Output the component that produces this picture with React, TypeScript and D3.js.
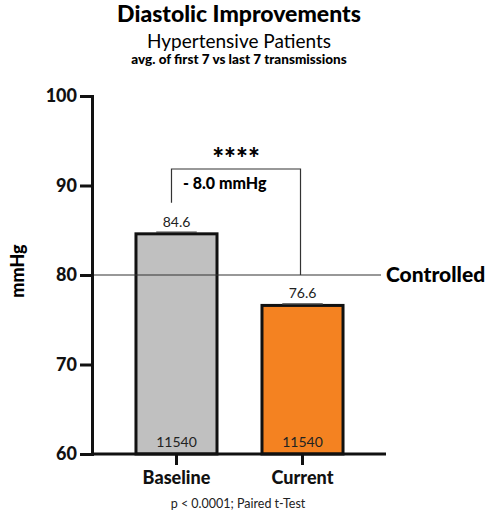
import { useEffect, useRef } from "react";
import * as d3 from "d3";

const categories = ["Baseline", "Current"];
const values = [84.6, 76.6];
const counts = ["11540", "11540"];
const barColors = ["#c0c0c0", "#f48221"];
const yTicks = [60, 70, 80, 90, 100];
const controlledLevel = 80;

const FONT = "Lato, 'Open Sans', sans-serif";

const App = () => {
  const svgRef = useRef<SVGSVGElement>(null);

  useEffect(() => {
    const width = 496;
    const height = 516;
    const svg = d3.select(svgRef.current);
    svg.selectAll("*").remove();
    svg.attr("width", width).attr("height", height);

    const x = d3.scaleBand().domain(categories).range([92, 387]).paddingInner(0.357).paddingOuter(0.349);
    const y = d3.scaleLinear().domain([60, 100]).range([454, 96]);

    // titles
    svg.append("text").attr("x", 239).attr("y", 22).attr("text-anchor", "middle")
      .style("font-family", FONT).style("font-weight", 900).style("font-size", "23px")
      .text("Diastolic Improvements");
    svg.append("text").attr("x", 239).attr("y", 48).attr("text-anchor", "middle")
      .style("font-family", FONT).style("font-size", "19px")
      .text("Hypertensive Patients");
    svg.append("text").attr("x", 239).attr("y", 64).attr("text-anchor", "middle")
      .style("font-family", FONT).style("font-weight", 900).style("font-size", "13.5px")
      .text("avg. of first 7 vs last 7 transmissions");

    // bars
    const bars = svg.append("g");
    categories.forEach((c, i) => {
      bars.append("rect")
        .attr("x", x(c)!)
        .attr("y", y(values[i]))
        .attr("width", x.bandwidth())
        .attr("height", y(60) - y(values[i]))
        .attr("fill", barColors[i])
        .attr("stroke", "#111")
        .attr("stroke-width", 3);
      // tiny error cap
      const cx = x(c)! + x.bandwidth() / 2;
      bars.append("line")
        .attr("x1", cx - x.bandwidth() / 4).attr("x2", cx + x.bandwidth() / 4)
        .attr("y1", y(values[i]) - 1.5).attr("y2", y(values[i]) - 1.5)
        .attr("stroke", "#444").attr("stroke-width", 1.5);
      bars.append("text")
        .attr("x", cx).attr("y", y(values[i]) - 7).attr("text-anchor", "middle")
        .style("font-family", FONT).style("font-size", "14px").style("fill", "#222")
        .text(values[i].toFixed(1));
      bars.append("text")
        .attr("x", cx).attr("y", 447).attr("text-anchor", "middle")
        .style("font-family", FONT).style("font-size", "14px").style("fill", "#222")
        .text(counts[i]);
    });

    // controlled line
    svg.append("line")
      .attr("x1", 92).attr("x2", 381)
      .attr("y1", y(controlledLevel)).attr("y2", y(controlledLevel))
      .attr("stroke", "#333").attr("stroke-width", 1.2);
    svg.append("text").attr("x", 386).attr("y", y(controlledLevel) + 7)
      .style("font-family", FONT).style("font-weight", 900).style("font-size", "21px")
      .text("Controlled");

    // axes
    const yAxis = svg.append("g").attr("transform", "translate(92,0)")
      .call(d3.axisLeft(y).tickValues(yTicks).tickSize(12).tickPadding(3));
    yAxis.select(".domain").attr("stroke", "#111").attr("stroke-width", 3);
    yAxis.selectAll(".tick line").attr("stroke", "#111").attr("stroke-width", 3);
    yAxis.selectAll(".tick text")
      .style("font-family", FONT).style("font-weight", 900).style("font-size", "18px").attr("fill", "#111");

    const xAxis = svg.append("g").attr("transform", `translate(0,${y(60)})`)
      .call(d3.axisBottom(x).tickSize(11).tickPadding(6).tickSizeOuter(0));
    xAxis.select(".domain").attr("stroke", "#111").attr("stroke-width", 3)
      .attr("d", "M92,0H386");
    xAxis.selectAll(".tick line").attr("stroke", "#111").attr("stroke-width", 3);
    xAxis.selectAll(".tick text")
      .style("font-family", FONT).style("font-weight", 900).style("font-size", "18px").attr("fill", "#111");

    // y label
    svg.append("text")
      .attr("transform", `translate(24,${y(80) - 4}) rotate(-90)`)
      .attr("text-anchor", "middle")
      .style("font-family", FONT).style("font-weight", 900).style("font-size", "18px")
      .text("mmHg");

    // significance bracket
    const lx = x("Baseline")! + x.bandwidth() / 2 - 5;
    const rx = x("Current")! + x.bandwidth() / 2 - 2;
    const topY = 169;
    svg.append("path")
      .attr("d", `M${lx},${y(values[0]) - 31}V${topY}H${rx}V${y(controlledLevel)}`)
      .attr("fill", "none").attr("stroke", "#333").attr("stroke-width", 1.2);
    svg.append("text").attr("x", (lx + rx) / 2).attr("y", 168).attr("text-anchor", "middle")
      .style("font-family", FONT).style("font-weight", 900).style("font-size", "28px")
      .text("****");
    svg.append("text").attr("x", 183).attr("y", 189)
      .style("font-family", FONT).style("font-weight", 900).style("font-size", "16px")
      .text("- 8.0 mmHg");

    // footer
    svg.append("text").attr("x", 238).attr("y", 508).attr("text-anchor", "middle")
      .style("font-family", FONT).style("font-size", "12.5px").style("fill", "#222")
      .text("p < 0.0001; Paired t-Test");
  }, []);

  return <svg ref={svgRef} style={{ position: "absolute", left: 0, top: 0, background: "#fff" }}></svg>;
};

export default App;
